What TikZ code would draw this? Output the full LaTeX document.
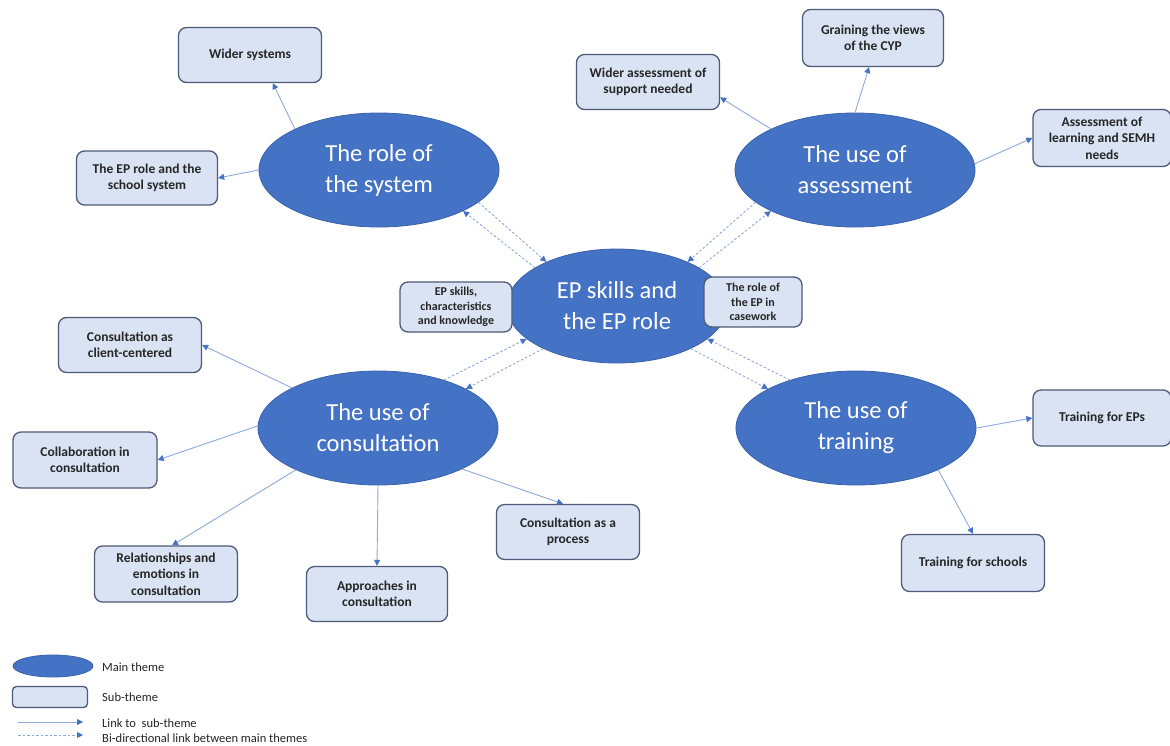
\documentclass[tikz,border=0pt]{standalone}
\usepackage{fontspec}
\setmainfont{Carlito}
\usetikzlibrary{arrows.meta,shapes.geometric}
\definecolor{mainblue}{HTML}{4472C4}
\definecolor{mainedge}{HTML}{3A62AC}
\definecolor{subfill}{HTML}{DAE3F3}
\definecolor{subedge}{HTML}{4E5B78}
\definecolor{linkc}{HTML}{8EA9DB}
\definecolor{tipc}{HTML}{4472C4}
\definecolor{txt}{HTML}{262626}
\begin{document}
\begin{tikzpicture}[x=1pt,y=-1pt,
  mainth/.style={ellipse, fill=mainblue, draw=mainedge, line width=0.8pt,
    minimum width=240pt, minimum height=114pt, inner sep=0pt, text=white,
    align=center, font=\fontsize{24.5}{31}\selectfont},
  subth/.style={rectangle, rounded corners=8pt, fill=subfill, draw=subedge,
    line width=1.3pt, minimum width=143pt, minimum height=55pt, inner sep=2pt,
    align=center, text=txt, font=\fontsize{13.5}{16.5}\selectfont\bfseries},
  smallsub/.style={subth, font=\fontsize{12}{14.5}\selectfont\bfseries},
  link/.style={draw=linkc, line width=0.9pt,
    -{Triangle[width=6pt,length=6pt,color=tipc]}},
  bilink/.style={link, dash pattern=on 2.5pt off 2pt},
  legtext/.style={anchor=west, text=txt, inner sep=0pt,
    font=\fontsize{12.5}{14}\selectfont}
]
\fill[white] (0,0) rectangle (1170,745);
\useasboundingbox (0,0) rectangle (1170,745);

% main themes
\node[mainth] (sys) at (379,170) {The role of\\the system};
\node[mainth] (asm) at (855,170) {The use of\\assessment};
\node[mainth, minimum width=220pt] (ep) at (617,306) {EP skills and\\the EP role};
\node[mainth] (con) at (378,428) {The use of\\consultation};
\node[mainth] (tr) at (856,428) {The use of\\training};

% sub-themes
\node[subth] (ws) at (250,55) {Wider systems};
\node[subth, minimum width=141pt, minimum height=54pt] (er) at (147,178) {The EP role and the\\school system};
\node[subth] (wa) at (648,82) {Wider assessment of\\support needed};
\node[subth, minimum width=141pt, minimum height=57pt] (gv) at (873,38) {Graining the views\\of the CYP};
\node[subth, minimum width=138pt, minimum height=57pt] (al) at (1102,138) {Assessment of\\learning and SEMH\\needs};
\node[smallsub, minimum width=112pt, minimum height=50pt] (sk) at (456,307) {EP skills,\\characteristics\\and knowledge};
\node[smallsub, minimum width=98pt, minimum height=50pt] (rc) at (753,302) {The role of\\the EP in\\casework};
\node[subth, minimum height=55pt] (cc) at (130,345) {Consultation as\\client-centered};
\node[subth, minimum width=144pt, minimum height=56pt] (cl) at (85,460) {Collaboration in\\consultation};
\node[subth, minimum height=56pt] (re) at (166,574) {Relationships and\\emotions in\\consultation};
\node[subth, minimum width=141pt, minimum height=55pt] (ap) at (377,594) {Approaches in\\consultation};
\node[subth] (cp) at (568,532) {Consultation as a\\process};
\node[subth, minimum width=138pt, minimum height=56pt] (te) at (1102,418) {Training for EPs};
\node[subth, minimum width=143pt, minimum height=57pt] (ts) at (973,563) {Training for schools};

% links to sub-themes
\draw[link] (sys.154) -- (ws.-51);
\draw[link] (sys.180) -- (er.east);
\draw[link] (asm.154) -- (wa.-12);
\draw[link] (asm.north) -- ([xshift=-4pt]gv.south);
\draw[link] (asm.3) -- (al.west);
\draw[link] (con.155) -- (cc.east);
\draw[link] (con.179) -- (cl.east);
\draw[link] (con.207) -- (re.78);
\draw[link] (con.south) -- (ap.north);
\draw[link] (con.-26) -- (cp.100);
\draw[link] (tr.east) -- (te.west);
\draw[link] (tr.-27) -- (ts.north);

% bi-directional links between main themes
\draw[bilink] (sys.-18) -- (ep.148);
\draw[bilink] (ep.155) -- (sys.-26);
\draw[bilink] (asm.198) -- (ep.32);
\draw[bilink] (ep.25) -- (asm.206);
\draw[bilink] (con.36) -- (ep.200);
\draw[bilink] (ep.210) -- (con.24);
\draw[bilink] (tr.144) -- (ep.340);
\draw[bilink] (ep.330) -- (tr.156);

% legend
\node[mainth, minimum width=80pt, minimum height=22pt] (lgm) at (53,666) {};
\node[subth, minimum width=75pt, minimum height=21pt, rounded corners=4pt] (lgs) at (50,697) {};
\coordinate (la1) at (18,722);
\coordinate (la2) at (83,722);
\coordinate (lb1) at (18,735);
\coordinate (lb2) at (83,735);
\draw[link] (la1) -- (la2);
\draw[bilink] (lb1) -- (lb2);
\node[legtext] (t1) at (102,667) {Main theme};
\node[legtext] (t2) at (102,697) {Sub-theme};
\node[legtext] (t3) at (102,723) {Link to\ \ sub-theme};
\node[legtext] (t4) at (102,738) {Bi-directional link between main themes};
\end{tikzpicture}
\end{document}
